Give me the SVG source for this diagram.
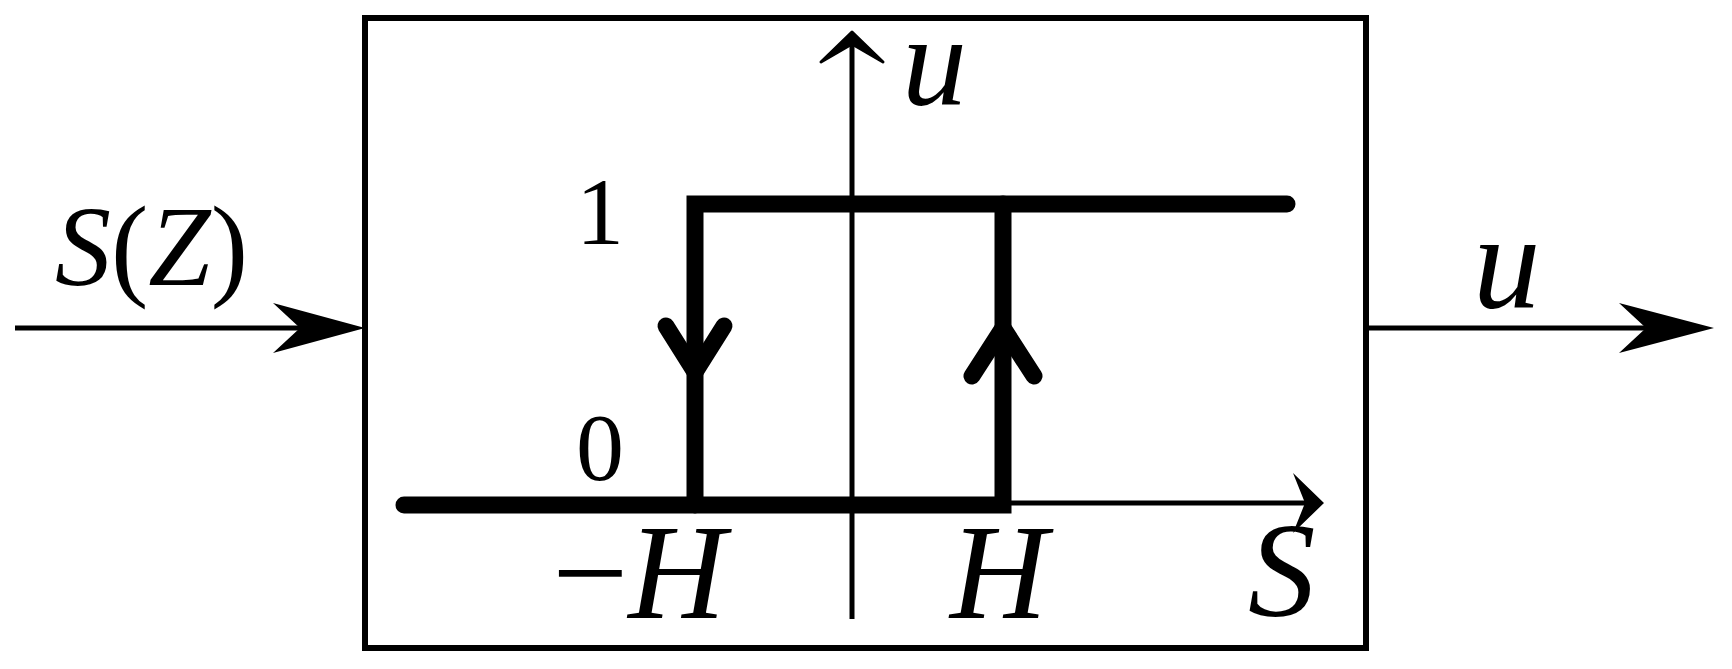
<svg xmlns="http://www.w3.org/2000/svg" width="1732" height="669" viewBox="0 0 1732 669">
<style>
text{font-family:'Liberation Serif','Times New Roman',Times,serif;fill:#000}
.i{font-style:italic}
.thick{stroke:#000;stroke-width:17;fill:none;stroke-linecap:round}
.thin{stroke:#000;stroke-width:5;fill:none}
</style>
<rect width="1732" height="669" fill="#fff"/>
<g id="block">
<rect x="365" y="18" width="1001" height="630" fill="none" stroke="#000" stroke-width="6"/>
</g>
<g id="connectors">
<line class="thin" x1="15" y1="328" x2="350" y2="328" stroke-width="10"/>
<path d="M365,328 L273,303 L300,328 L273,353 Z" fill="#000"/>
<line class="thin" x1="1366" y1="328" x2="1700" y2="328" stroke-width="10"/>
<path d="M1714,328 L1619,303 L1646,328 L1619,353 Z" fill="#000"/>
</g>
<g id="axes">
<line class="thin" x1="852" y1="619" x2="852" y2="40"/>
<path d="M852,32 L821,62 L852,44 L883,62 Z" fill="#000" stroke="#000" stroke-width="3" stroke-linejoin="round"/>
<line class="thin" x1="1003" y1="503" x2="1310" y2="503"/>
<path d="M1324,503 L1293,473 L1305,503 L1293,533 Z" fill="#000"/>
</g>
<g id="hysteresis">
<path class="thick" d="M404,505 L1003,505 L1003,204"/>
<path class="thick" stroke-linecap="butt" d="M695,505 L695,204 L1287,204"/>
<path class="thick" stroke-width="20" d="M666,326 L695,372 L724,326" stroke-linejoin="miter"/>
<path class="thick" stroke-width="20" d="M972,376 L1003,328 L1034,376" stroke-linejoin="miter"/>
</g>
<g id="labels">
<text x="600" y="244" font-size="96" text-anchor="middle">1</text>
<text x="600" y="480" font-size="96" text-anchor="middle">0</text>
<text x="552" y="618" font-size="135"><tspan>−</tspan><tspan class="i">H</tspan></text>
<text class="i" x="950" y="618" font-size="135">H</text>
<text class="i" x="1248" y="616" font-size="135">S</text>
<text class="i" x="902" y="104" font-size="130">u</text>
<text class="i" x="1473" y="307" font-size="135">u</text>
<text x="55" y="285" font-size="115" textLength="193" lengthAdjust="spacingAndGlyphs"><tspan class="i">S</tspan>(<tspan class="i">Z</tspan>)</text>
</g>
</svg>
